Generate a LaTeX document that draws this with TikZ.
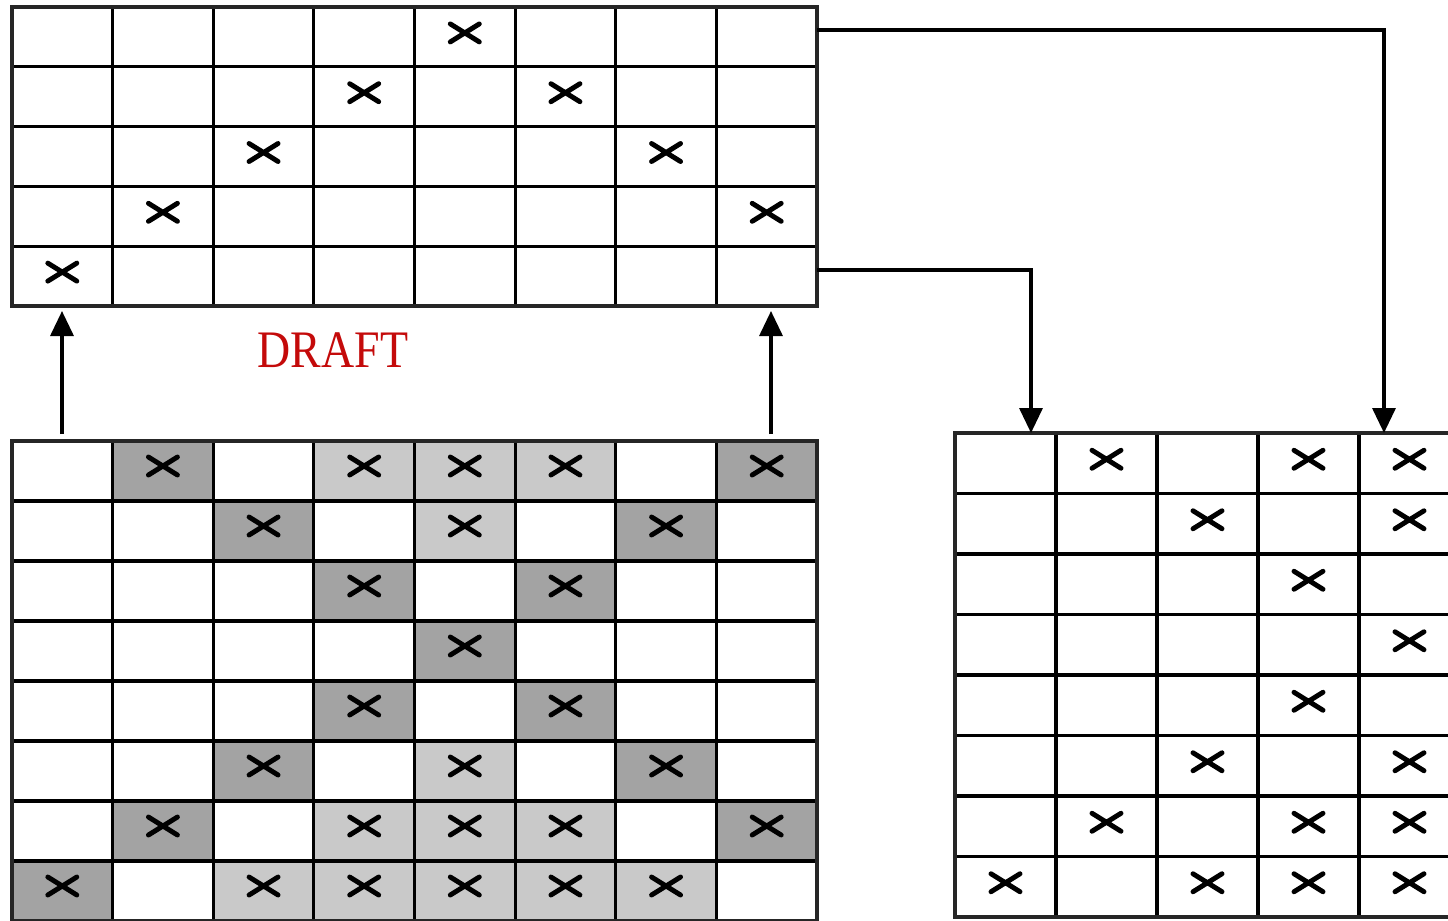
\documentclass[tikz,border=0pt]{standalone}
\usepackage{fontspec}
\newfontfamily\stampfont{Liberation Serif}
\usetikzlibrary{arrows.meta}
\definecolor{stampred}{RGB}{196,10,10}
\tikzset{
  gridframe/.style={draw=black!85,line width=1.4pt,inner sep=0pt,outer sep=0pt,anchor=north west},
  rule/.style={draw=black,line width=0.9pt},
  xmark/.style={line width=1.4pt,line cap=round},
  darkcell/.style={fill=black!36},
  lightcell/.style={fill=black!21},
  flow/.style={line width=0.95pt,-{Triangle[width=0.23cm,length=0.25cm]}},
  stamp/.style={font=\stampfont\fontsize{15}{18}\selectfont,text=stampred,xscale=0.87,transform shape},
}

\begin{document}
\begin{tikzpicture}
\clip (0,0) rectangle (14.48,-9.20);
\fill[white] (0,0) rectangle (14.48,-9.20);
% shaded cells of the lower grid
\foreach \c/\r in {1/0,7/0,2/1,6/1,3/2,5/2,4/3,3/4,5/4,2/5,6/5,1/6,7/6,0/7}
  \fill[darkcell] ({0.12+1.00625*\c},{-4.41-0.6*\r}) rectangle ++(1.00625,-0.6);
\foreach \c/\r in {3/0,4/0,5/0,4/1,4/5,3/6,4/6,5/6,2/7,3/7,4/7,5/7,6/7}
  \fill[lightcell] ({0.12+1.00625*\c},{-4.41-0.6*\r}) rectangle ++(1.00625,-0.6);
% inner rules
\foreach \i in {1,...,7} \draw[rule] ({0.12+1.00625*\i},-0.07) -- ++(0,-2.99);
\foreach \j in {1,...,4} \draw[rule] (0.12,{-0.07-0.598*\j}) -- ++(8.05,0);
\foreach \i in {1,...,7} \draw[rule] ({0.12+1.00625*\i},-4.41) -- ++(0,-4.80);
\foreach \j in {1,...,7} \draw[rule] (0.12,{-4.41-0.6*\j}) -- ++(8.05,0);
\foreach \i in {1,...,4} \draw[rule] ({9.55+1.01*\i},-4.33) -- ++(0,-4.84);
\foreach \j in {1,...,7} \draw[rule] (9.55,{-4.33-0.605*\j}) -- ++(5.05,0);
% grid frames
\node[gridframe,minimum width=8.05cm,minimum height=2.99cm] (upper) at (0.12,-0.07) {};
\node[gridframe,minimum width=8.05cm,minimum height=4.80cm] (lower) at (0.12,-4.41) {};
\node[gridframe,minimum width=5.05cm,minimum height=4.84cm] (result) at (9.55,-4.33) {};
% marks
\foreach \c/\r in {4/0,3/1,5/1,2/2,6/2,1/3,7/3,0/4}
  \draw[xmark,shift={({0.12+1.00625*(\c+0.5)},{-0.07-0.598*(\r+0.5)+0.04})}] (-0.145,-0.09) -- (0.145,0.09) (-0.145,0.09) -- (0.145,-0.09);
\foreach \c/\r in {1/0,7/0,2/1,6/1,3/2,5/2,4/3,3/4,5/4,2/5,6/5,1/6,7/6,0/7,3/0,4/0,5/0,4/1,4/5,3/6,4/6,5/6,2/7,3/7,4/7,5/7,6/7}
  \draw[xmark,shift={({0.12+1.00625*(\c+0.5)},{-4.41-0.6*(\r+0.5)+0.05})}] (-0.145,-0.09) -- (0.145,0.09) (-0.145,0.09) -- (0.145,-0.09);
\foreach \c/\r in {1/0,3/0,4/0,2/1,4/1,3/2,4/3,3/4,2/5,4/5,1/6,3/6,4/6,0/7,2/7,3/7,4/7}
  \draw[xmark,shift={({9.55+1.01*(\c+0.5)},{-4.33-0.605*(\r+0.5)+0.04})}] (-0.145,-0.09) -- (0.145,0.09) (-0.145,0.09) -- (0.145,-0.09);
% connectors
\coordinate (colA) at (0.62,0);
\coordinate (colB) at (7.71,0);
\coordinate (colC) at (10.31,0);
\coordinate (colD) at (13.84,0);
\coordinate (rowA) at (0,-0.30);
\coordinate (rowB) at (0,-2.70);
\draw[flow,shorten <=0.07cm,shorten >=0.05cm] (lower.north -| colA) -- (upper.south -| colA);
\draw[flow,shorten <=0.07cm,shorten >=0.05cm] (lower.north -| colB) -- (upper.south -| colB);
\draw[flow] (upper.east |- rowA) -| (result.north -| colD);
\draw[flow] (upper.east |- rowB) -| (result.north -| colC);
\node[stamp] (draftlbl) at (3.33,-3.505) {DRAFT};
\end{tikzpicture}
\end{document}
